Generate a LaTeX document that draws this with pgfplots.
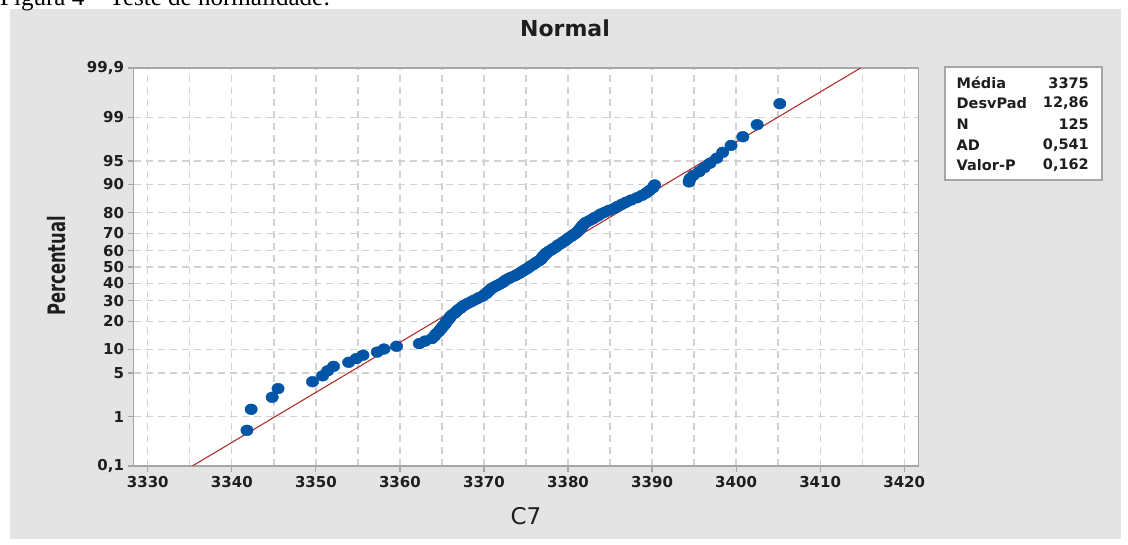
\documentclass[border=0pt]{standalone}
\usepackage{pgfplots}
\pgfplotsset{compat=1.18}
\usepackage{fontspec}
\setmainfont{DejaVu Sans}
\newfontfamily\capfont{Liberation Serif}
\definecolor{panel}{HTML}{E4E4E4}
\definecolor{ptblue}{HTML}{0055A6}
\definecolor{fitred}{HTML}{B0302C}
\definecolor{gridc}{HTML}{D2D2D2}
\definecolor{framec}{HTML}{A6A6A6}
\definecolor{txt}{HTML}{1E1E1E}
\begin{document}
\begin{tikzpicture}[x=1pt,y=1pt]
\useasboundingbox (0,0) rectangle (1128,545);
\clip (0,0) rectangle (1128,545);
\fill[white] (0,0) rectangle (1128,545);
\fill[panel] (10,6) rectangle (1121,536);
\node[anchor=base west, inner sep=0pt] at (0,539) {\resizebox{330pt}{!}{\capfont Figura 4 – Teste de normalidade:}};
\begin{axis}[
  at={(133.5pt,79pt)}, anchor=south west, scale only axis,
  width=785pt, height=398pt,
  xmin=3328.3, xmax=3421.7, ymin=-3.0902, ymax=3.0902,
  axis background/.style={fill=white},
  axis line style={framec, line width=1.5pt},
  tick pos=left, tick align=outside, major tick length=6pt,
  tick style={framec, line width=1.2pt},
  xtick={3330,3340,3350,3360,3370,3380,3390,3400,3410,3420},
  xticklabels={3330,3340,3350,3360,3370,3380,3390,3400,3410,3420},
  minor xtick={3335,3345,3355,3365,3375,3385,3395,3405,3415},
  minor tick length=0pt,
  ytick={-3.0902,-2.3263,-1.6449,-1.2816,-0.8416,-0.5244,-0.2533,0,0.2533,0.5244,0.8416,1.2816,1.6449,2.3263,3.0902},
  yticklabels={{0,1},1,5,10,20,30,40,50,60,70,80,90,95,99,{99,9}},
  xmajorgrids, xminorgrids, ymajorgrids,
  major grid style={gridc, dash pattern=on 7pt off 5pt, line width=1.3pt},
  minor grid style={gridc, dash pattern=on 7pt off 5pt, line width=1.3pt},
  tick label style={font=\fontsize{15}{17}\selectfont\bfseries, text=txt},
  xticklabel style={yshift=-1pt},
]
\addplot[fitred, line width=1.1pt] coordinates {(3335.3,-3.0902) (3414.8,3.0902)};
\addplot[only marks, mark=*, mark size=5.4pt, color=ptblue, mark options={xscale=1.15, draw=ptblue, fill=ptblue}] coordinates {
(3341.8,-2.536) (3342.3,-2.210) (3344.8,-2.023) (3345.5,-1.888) (3349.6,-1.781)
(3350.8,-1.690) (3351.4,-1.612) (3352.1,-1.543) (3353.9,-1.480) (3354.8,-1.423)
(3355.6,-1.370) (3357.3,-1.321) (3358.1,-1.274) (3359.6,-1.231) (3362.3,-1.190)
(3363.0,-1.150) (3363.8,-1.112) (3364.1,-1.075) (3364.3,-1.040) (3364.6,-1.006)
(3364.8,-0.974) (3365.0,-0.942) (3365.2,-0.911) (3365.4,-0.881) (3365.5,-0.852)
(3365.7,-0.824) (3365.9,-0.796) (3366.0,-0.769) (3366.2,-0.743) (3366.5,-0.717)
(3366.7,-0.691) (3366.9,-0.666) (3367.2,-0.641) (3367.4,-0.616) (3367.7,-0.592)
(3368.0,-0.569) (3368.4,-0.545) (3368.7,-0.522) (3369.1,-0.499) (3369.4,-0.477)
(3369.8,-0.455) (3370.0,-0.433) (3370.3,-0.411) (3370.4,-0.390) (3370.6,-0.368)
(3370.8,-0.347) (3371.0,-0.326) (3371.3,-0.305) (3371.6,-0.284) (3371.9,-0.264)
(3372.2,-0.243) (3372.4,-0.223) (3372.6,-0.202) (3372.9,-0.182) (3373.2,-0.161)
(3373.6,-0.141) (3373.9,-0.120) (3374.2,-0.100) (3374.4,-0.080) (3374.7,-0.060)
(3374.9,-0.040) (3375.2,-0.020) (3375.4,0.000) (3375.6,0.020) (3375.9,0.040)
(3376.1,0.060) (3376.3,0.080) (3376.6,0.100) (3376.8,0.120) (3376.9,0.141)
(3377.0,0.161) (3377.2,0.182) (3377.3,0.202) (3377.5,0.223) (3377.7,0.243)
(3378.0,0.264) (3378.2,0.284) (3378.5,0.305) (3378.7,0.326) (3378.9,0.347)
(3379.2,0.368) (3379.4,0.390) (3379.7,0.411) (3379.9,0.433) (3380.1,0.455)
(3380.4,0.477) (3380.6,0.499) (3380.9,0.522) (3381.1,0.545) (3381.3,0.569)
(3381.4,0.592) (3381.6,0.616) (3381.7,0.641) (3381.9,0.666) (3382.1,0.691)
(3382.5,0.717) (3382.9,0.743) (3383.2,0.769) (3383.6,0.796) (3383.9,0.824)
(3384.4,0.852) (3384.9,0.881) (3385.5,0.911) (3385.9,0.942) (3386.4,0.974)
(3386.9,1.006) (3387.5,1.040) (3388.2,1.075) (3388.8,1.112) (3389.3,1.150)
(3389.7,1.190) (3390.1,1.231) (3390.3,1.274) (3394.4,1.321) (3394.5,1.370)
(3394.9,1.423) (3395.6,1.480) (3396.2,1.543) (3396.9,1.612) (3397.7,1.690)
(3398.4,1.781) (3399.4,1.888) (3400.8,2.023) (3402.5,2.210) (3405.2,2.536)
};
\end{axis}
\node[font=\fontsize{22}{24}\selectfont\bfseries, text=txt] at (565,517) {Normal};
\node[font=\fontsize{23}{25}\selectfont, text=txt] at (526,29) {C7};
\node[rotate=90, text=txt] at (57,279) {\scalebox{0.68}[1]{\fontsize{24}{26}\selectfont\bfseries Percentual}};
\draw[framec, line width=1.2pt, fill=white] (945,365) rectangle (1102,478);
\begin{scope}[every node/.style={font=\fontsize{14.5}{16}\selectfont\bfseries, text=txt, inner sep=0pt}]
\node[anchor=west] at (956.5,462) {Média};
\node[anchor=east] at (1089,462) {3375};
\node[anchor=west] at (956.5,441.5) {DesvPad};
\node[anchor=east] at (1089,441.5) {12,86};
\node[anchor=west] at (956.5,421) {N};
\node[anchor=east] at (1089,421) {125};
\node[anchor=west] at (956.5,400) {AD};
\node[anchor=east] at (1089,400) {0,541};
\node[anchor=west] at (956.5,380) {Valor-P};
\node[anchor=east] at (1089,380) {0,162};
\end{scope}
\end{tikzpicture}
\end{document}
